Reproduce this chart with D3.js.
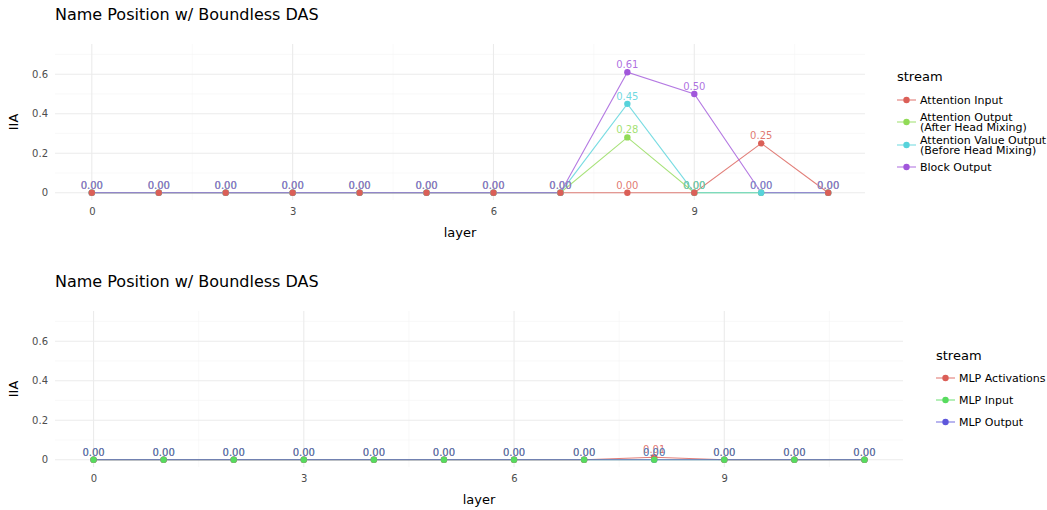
<!DOCTYPE html>
<html>
<head>
<meta charset="utf-8">
<script src="https://cdn.jsdelivr.net/npm/d3@7"></script>
<style>
  body { margin: 0; background: #fff; }
  svg { font-family: "DejaVu Sans", sans-serif; display: block; }
</style>
</head>
<body>
<div id="container"></div>
<script>
// data
const layers = [0, 1, 2, 3, 4, 5, 6, 7, 8, 9, 10, 11];
const xTicks = [0, 3, 6, 9];
const yTicks = [0, 0.2, 0.4, 0.6];
const yTickLabels = ["0", "0.2", "0.4", "0.6"];

const attnInput      = [0, 0, 0, 0, 0, 0, 0, 0, 0,    0,    0.25, 0];
const attnOutput     = [0, 0, 0, 0, 0, 0, 0, 0, 0.28, 0,    0,    0];
const attnValueOut   = [0, 0, 0, 0, 0, 0, 0, 0, 0.45, 0,    0,    0];
const blockOutput    = [0, 0, 0, 0, 0, 0, 0, 0, 0.61, 0.50, 0,    0];

const mlpActivations = [0, 0, 0, 0, 0, 0, 0, 0, 0.012, 0, 0, 0];
const mlpInput       = [0, 0, 0, 0, 0, 0, 0, 0, 0,     0, 0, 0];
const mlpOutput      = [0, 0, 0, 0, 0, 0, 0, 0, 0,     0, 0, 0];

const topStreams = [
  { name: ["Attention Input"], values: attnInput, color: "#db5f57" },
  { name: ["Attention Output", "(After Head Mixing)"], values: attnOutput, color: "#91db57" },
  { name: ["Attention Value Output", "(Before Head Mixing)"], values: attnValueOut, color: "#57d3db" },
  { name: ["Block Output"], values: blockOutput, color: "#a157db" }
];
const bottomStreams = [
  { name: ["MLP Activations"], values: mlpActivations, color: "#db5e57" },
  { name: ["MLP Input"], values: mlpInput, color: "#57db5e" },
  { name: ["MLP Output"], values: mlpOutput, color: "#5e57db" }
];

const W = 1047, H = 510;
const svg = d3.select("#container").append("svg")
  .attr("width", W).attr("height", H);

function drawPanel(opt) {
  const g = svg.append("g");
  const x = d3.scaleLinear().domain([-0.55, 11.55]).range([opt.left, opt.right]);
  const y = d3.scaleLinear().domain([-0.037, 0.753]).range([opt.bottom, opt.top]);

  // title
  g.append("text").attr("x", opt.left).attr("y", opt.titleY)
    .attr("font-size", 16).attr("fill", "#000").text("Name Position w/ Boundless DAS");

  // grid
  const grid = g.append("g");
  [1.5, 4.5, 7.5, 10.5].forEach(v => grid.append("line")
    .attr("x1", x(v)).attr("x2", x(v)).attr("y1", opt.top).attr("y2", opt.bottom)
    .attr("stroke", "#f5f5f5").attr("stroke-width", 0.6));
  [0.1, 0.3, 0.5, 0.7].forEach(v => grid.append("line")
    .attr("x1", opt.left).attr("x2", opt.right).attr("y1", y(v)).attr("y2", y(v))
    .attr("stroke", "#f5f5f5").attr("stroke-width", 0.6));
  xTicks.forEach(v => grid.append("line")
    .attr("x1", x(v)).attr("x2", x(v)).attr("y1", opt.top).attr("y2", opt.bottom)
    .attr("stroke", "#ebebeb").attr("stroke-width", 1.1));
  yTicks.forEach(v => grid.append("line")
    .attr("x1", opt.left).attr("x2", opt.right).attr("y1", y(v)).attr("y2", y(v))
    .attr("stroke", "#ebebeb").attr("stroke-width", 1.1));

  // axes (tick labels only)
  const xAxis = g.append("g").attr("transform", `translate(0,${opt.bottom})`)
    .call(d3.axisBottom(x).tickValues(xTicks).tickSize(0).tickPadding(8).tickFormat(d3.format("d")));
  const yAxis = g.append("g").attr("transform", `translate(${opt.left},0)`)
    .call(d3.axisLeft(y).tickValues(yTicks).tickSize(0).tickPadding(7)
      .tickFormat((d, i) => yTickLabels[i]));
  [xAxis, yAxis].forEach(a => {
    a.select(".domain").remove();
    a.selectAll("text").attr("font-size", 10).attr("fill", "#4d4d4d")
      .attr("font-family", "DejaVu Sans, sans-serif");
  });

  g.append("text").attr("x", (opt.left + opt.right) / 2).attr("y", opt.bottom + 37)
    .attr("text-anchor", "middle").attr("font-size", 13).text("layer");
  g.append("text")
    .attr("transform", `translate(18,${(opt.top + opt.bottom) / 2}) rotate(-90)`)
    .attr("text-anchor", "middle").attr("font-size", 13).text("IIA");

  const line = d3.line().x((d, i) => x(layers[i])).y(d => y(d));

  // lines
  opt.streams.forEach(s => g.append("path")
    .attr("d", line(s.values)).attr("fill", "none")
    .attr("stroke", s.color).attr("stroke-width", 1.1).attr("stroke-opacity", 0.8));

  // points
  opt.pointOrder.forEach(k => {
    const s = opt.streams[k];
    g.append("g").selectAll("circle").data(s.values).join("circle")
      .attr("cx", (d, i) => x(layers[i])).attr("cy", d => y(d)).attr("r", 3.2)
      .attr("fill", s.color);
  });

  // value labels
  opt.streams.forEach(s => g.append("g").selectAll("text").data(s.values).join("text")
    .attr("x", (d, i) => x(layers[i])).attr("y", d => y(d) - 4)
    .attr("text-anchor", "middle").attr("font-size", 10)
    .attr("fill", s.color).attr("fill-opacity", 0.85)
    .text(d => d.toFixed(2)));

  // legend
  const lg = g.append("g");
  lg.append("text").attr("x", opt.legX).attr("y", opt.legTitleY + 5)
    .attr("font-size", 13).text("stream");
  opt.streams.forEach((s, i) => {
    const cy = opt.legItemsY[i];
    lg.append("line").attr("x1", opt.legX).attr("x2", opt.legX + 19)
      .attr("y1", cy).attr("y2", cy).attr("stroke", s.color)
      .attr("stroke-width", 1.1).attr("stroke-opacity", 0.8);
    lg.append("circle").attr("cx", opt.legX + 9.5).attr("cy", cy).attr("r", 3.2).attr("fill", s.color);
    const n = s.name.length;
    s.name.forEach((t, j) => lg.append("text")
      .attr("x", opt.legX + 23).attr("y", cy + (j - (n - 1) / 2) * 10.5 + 4)
      .attr("font-size", 11).text(t));
  });
}

drawPanel({
  streams: topStreams, pointOrder: [3, 1, 2, 0],
  left: 55, right: 865, top: 44, bottom: 200, titleY: 20,
  legX: 897, legTitleY: 76, legItemsY: [100, 122, 145, 167]
});
drawPanel({
  streams: bottomStreams, pointOrder: [2, 0, 1],
  left: 55, right: 903, top: 311, bottom: 467, titleY: 287,
  legX: 936, legTitleY: 355, legItemsY: [378, 400, 422]
});
</script>
</body>
</html>
